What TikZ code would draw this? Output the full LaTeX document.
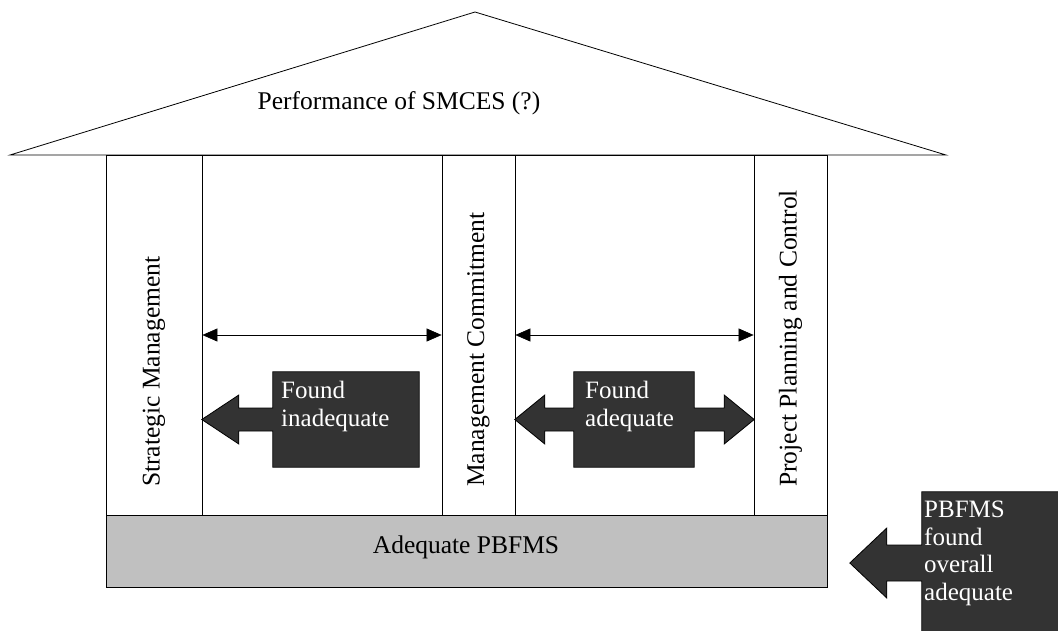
\documentclass[tikz,border=0pt]{standalone}
\usepackage{fontspec}
\setmainfont{Liberation Serif}
\usetikzlibrary{arrows.meta,calc}
\definecolor{darkfill}{HTML}{333333}
\definecolor{basegray}{HTML}{C0C0C0}
\begin{document}
\begin{tikzpicture}[x=1pt,y=-1pt,
  thinline/.style={draw=black,line width=0.8pt},
  colbox/.style={draw=black,line width=0.8pt,fill=white,inner sep=0pt,minimum height=360pt},
  callout/.style={fill=darkfill,draw=black,line width=0.8pt},
  calltext/.style={text=white,align=left,anchor=north west,inner sep=0pt,font=\fontsize{25}{27.5}\selectfont},
  boxarea/.style={inner sep=0pt,draw=none},
  lbl/.style={font=\fontsize{25.5}{28}\selectfont,inner sep=0pt},
  vlbl/.style={font=\fontsize{25.5}{28}\selectfont,inner sep=0pt,rotate=90,anchor=west},
  dbl/.style={{Triangle[length=15pt,width=13pt]}-{Triangle[length=15pt,width=13pt]},line width=0.6pt}
]
\useasboundingbox (0,0) rectangle (1058,630);
% roof
\coordinate (apex) at (475,12);
\coordinate (eaveL) at (10,155);
\coordinate (eaveR) at (946,155);
\draw[thinline,fill=white] (eaveL) -- (apex) -- (eaveR) -- cycle;
\node[lbl] (roof) at (399,103) {Performance of SMCES (?)};
% hall
\node[boxarea,draw=black,line width=0.8pt,minimum width=721pt,minimum height=360pt] (hall) at (466.5,335) {};
% columns
\node[colbox,minimum width=96pt] (sm) at (154,335) {};
\node[colbox,minimum width=73pt] (mc) at (478.5,335) {};
\node[colbox,minimum width=73pt] (pp) at (790.5,335) {};
\node[vlbl] (smt) at (154,487) {Strategic Management};
\node[vlbl] (mct) at (478.5,487) {Management Commitment};
\node[vlbl] (ppt) at (790.5,487) {Project Planning and Control};
% base
\node[draw=black,line width=0.8pt,fill=basegray,minimum width=721pt,minimum height=72pt,inner sep=0pt] (base) at (466.5,551) {};
\node[lbl] (baset) at (466,547) {Adequate PBFMS};
% double arrows
\draw[dbl] (sm.east) -- (mc.west);
\draw[dbl] (mc.east) -- (pp.west);
% callout: found inadequate
\node[boxarea,minimum width=146pt,minimum height=95pt] (fi) at (346,419.5) {};
\draw[callout] (fi.north east) -- (fi.north west) -- ($(fi.west)+(0,-11.5)$) -- ++(-34,0) -- ++(0,-13) -- ++(-37,24.5) -- ++(37,24.5) -- ++(0,-13) -- ++(34,0) -- (fi.south west) -- (fi.south east) -- cycle;
\node[calltext] (fit) at (281,381) {Found\\inadequate};
% callout: found adequate
\node[boxarea,minimum width=120pt,minimum height=95pt] (fa) at (634,419.5) {};
\draw[callout] (fa.north east) -- (fa.north west) -- ($(fa.west)+(0,-11.5)$) -- ++(-29,0) -- ++(0,-13) -- ++(-30,24.5) -- ++(30,24.5) -- ++(0,-13) -- ++(29,0) -- (fa.south west) -- (fa.south east) -- ($(fa.east)+(0,11.5)$) -- ++(30,0) -- ++(0,13) -- ++(30,-24.5) -- ++(-30,-24.5) -- ++(0,13) -- ++(-30,0) -- cycle;
\node[calltext] (fat) at (585,381) {Found\\adequate};
% callout: overall
\node[boxarea,minimum width=140pt,minimum height=142pt] (ov) at (992,563) {};
\draw[callout] (ov.north east) -- (ov.north west) -- ($(ov.west)+(0,-18)$) -- ++(-35,0) -- ++(0,-17) -- ++(-37,35) -- ++(37,35) -- ++(0,-17) -- ++(35,0) -- (ov.south west) -- (ov.south east) -- cycle;
\node[calltext] (ovt) at (924,501) {PBFMS\\found\\overall\\adequate};
\end{tikzpicture}
\end{document}
